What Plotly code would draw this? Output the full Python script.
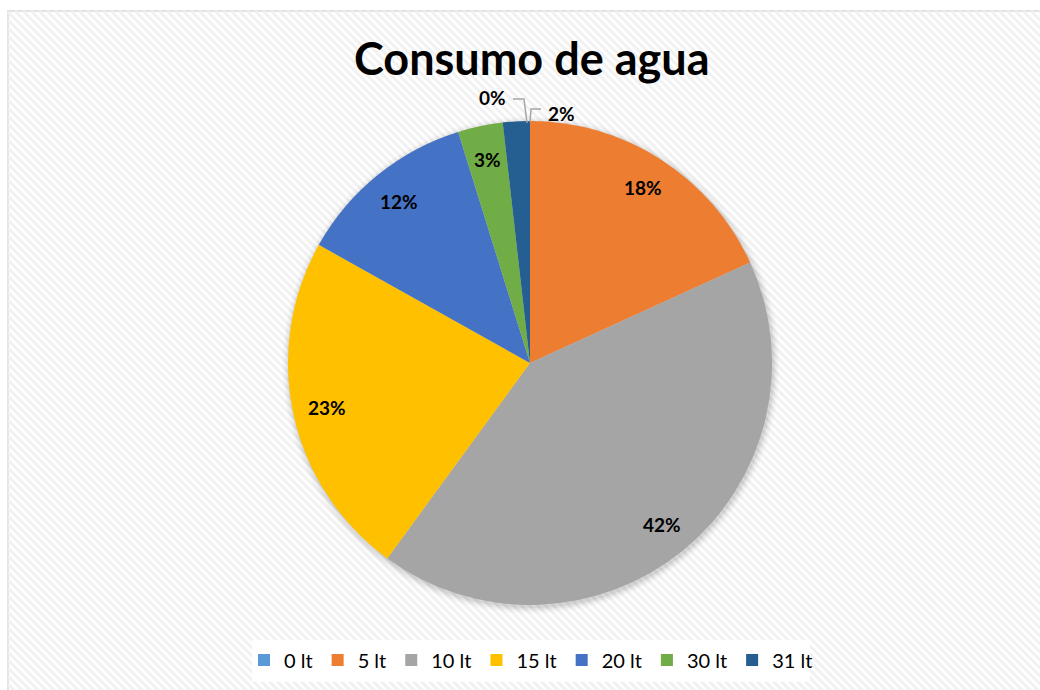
import math
import plotly.graph_objects as go

# ---- data ----
categories = ["0 lt", "5 lt", "10 lt", "15 lt", "20 lt", "30 lt", "31 lt"]
values = [0, 18.2, 41.9, 23.1, 12.1, 3.0, 1.8]
colors = ["#5B9BD5", "#ED7D31", "#A5A5A5", "#FFC000", "#4472C4", "#70AD47", "#255E91"]
title_text = "Consumo de agua"

W, H = 1040, 690
CX, CY, R = 530, 363, 242  # pie geometry in pixels
FONT = "Lato"

def px(x):
    return x / W

def py(y):
    return 1 - y / H

fig = go.Figure()
fig.add_trace(go.Pie(
    labels=categories, values=values, sort=False, direction="clockwise",
    rotation=0, marker=dict(colors=colors, line=dict(width=0)),
    textinfo="none", hoverinfo="label+percent",
    domain=dict(x=[px(CX - R), px(CX + R)], y=[py(CY + R), py(CY - R)]),
    showlegend=True,
))

# ---- background hatch (decorative) ----
bx0, by0, bx1, by1 = 8, 11, W + 2, H + 2
segs = []
step = 8
k = bx0 - (by1 - by0)
while k < bx1:
    ya, yb = by0, by1
    xa, xb = k, k + (by1 - by0)
    if xa < bx0:
        ya = by0 + (bx0 - xa); xa = bx0
    if xb > bx1:
        yb = by1 - (xb - bx1); xb = bx1
    if ya < yb:
        segs.append(f"M {px(xa):.5f},{py(ya):.5f} L {px(xb):.5f},{py(yb):.5f}")
    k += step
shapes = [
    dict(type="rect", xref="paper", yref="paper", x0=px(bx0), x1=px(bx1), y0=py(by1), y1=py(by0),
         fillcolor="white", line=dict(color="#d9d9d9", width=1.5), layer="below"),
    dict(type="path", xref="paper", yref="paper", path=" ".join(segs),
         line=dict(color="#f1f1f1", width=3), layer="below"),
]
# soft shadow around pie
for i, a in enumerate([0.05, 0.04, 0.03, 0.02, 0.015]):
    rr = R + 1 + i * 1.5
    shapes.append(dict(type="circle", xref="paper", yref="paper",
                       x0=px(CX + 1 - rr), x1=px(CX + 1 + rr), y0=py(CY + 2 + rr), y1=py(CY + 2 - rr),
                       fillcolor=f"rgba(0,0,0,{a})", line=dict(width=0), layer="below"))
# legend backdrop
shapes.append(dict(type="rect", xref="paper", yref="paper", x0=px(252), x1=px(810), y0=py(682), y1=py(640),
                   fillcolor="white", line=dict(width=0), layer="below"))
# leader lines for outside labels
shapes.append(dict(type="path", xref="paper", yref="paper",
                   path=f"M {px(513)},{py(99)} L {px(524)},{py(99)} L {px(527)},{py(123)}",
                   line=dict(color="#a6a6a6", width=1.5)))
shapes.append(dict(type="path", xref="paper", yref="paper",
                   path=f"M {px(541)},{py(109)} L {px(531)},{py(109)} L {px(530)},{py(122)}",
                   line=dict(color="#a6a6a6", width=1.5)))

# ---- data labels ----
total = sum(values)
annotations = []
cum = 0
outside_pos = {0: (492, 97), 6: (561, 113)}
for i, v in enumerate(values):
    frac = v / total
    mid = (cum + frac / 2) * 2 * math.pi
    cum += frac
    txt = f"{round(frac * 100):.0f}%"
    if i in outside_pos:
        x, y = outside_pos[i]
    else:
        rr = 0.86 * R
        x = CX + rr * math.sin(mid)
        y = CY - rr * math.cos(mid)
    annotations.append(dict(x=px(x), y=py(y), xref="paper", yref="paper", text=f"<b>{txt}</b>",
                            showarrow=False, font=dict(family=FONT, size=19, color="#000000"),
                            xanchor="center", yanchor="middle", borderpad=0))

annotations.append(dict(x=px(531), y=py(58), xref="paper", yref="paper",
                        text=f"<b>{title_text}</b>", showarrow=False,
                        font=dict(family=FONT, size=45, color="#000000"),
                        xanchor="center", yanchor="middle", borderpad=0))

fig.update_layout(
    width=W, height=H, autosize=False,
    margin=dict(l=0, r=0, t=0, b=0),
    paper_bgcolor="white", plot_bgcolor="white",
    shapes=shapes, annotations=annotations,
    legend=dict(orientation="h", x=px(531), xanchor="center", y=py(660), yanchor="middle",
                bgcolor="rgba(255,255,255,0)", font=dict(family=FONT, size=20, color="#000000"),
                itemwidth=30, tracegroupgap=0, traceorder="normal"),
)

fig.write_html("out.html", config={"displayModeBar": False},
               post_script="document.body.style.margin='0';")
